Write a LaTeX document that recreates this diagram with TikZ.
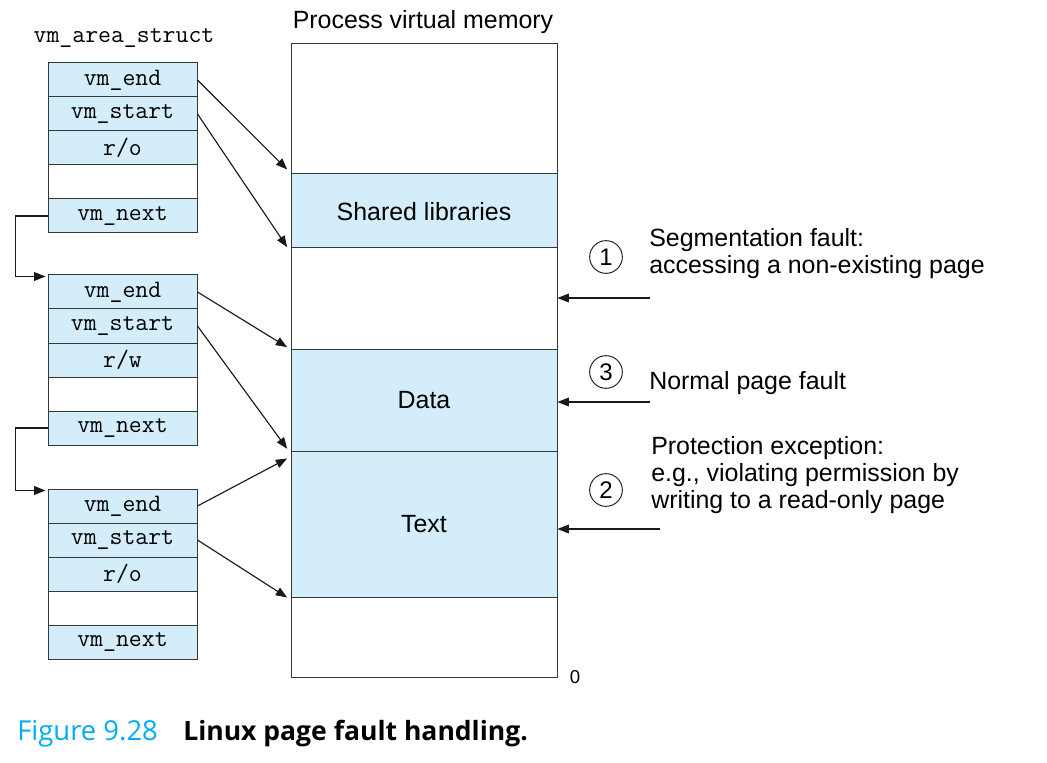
\documentclass[tikz,border=0pt]{standalone}
\usepackage{fontspec}
\setmainfont{Liberation Sans}
\newfontfamily\capfont{Open Sans}
\usepackage{xcolor}
\usepackage{tikz}
\usetikzlibrary{arrows.meta}

\definecolor{memblue}{RGB}{212,237,250}
\definecolor{figcyan}{RGB}{0,174,239}
\definecolor{linegray}{RGB}{55,55,55}

\begin{document}
\begin{tikzpicture}[x=0.75pt,y=-0.75pt,
    field/.style={draw=linegray, fill=memblue, line width=0.75pt, minimum width=111.75pt,
      minimum height=25.5pt, inner sep=0pt, font=\ttfamily\fontsize{18.8pt}{20pt}\selectfont},
    region/.style={draw=linegray, line width=0.75pt, minimum width=199.5pt, inner sep=0pt,
      text depth=0pt, font=\fontsize{18.7pt}{20pt}\selectfont},
    ptr/.style={-{Triangle[length=8.5pt,width=6.5pt]}, line width=0.85pt, black!90},
    num/.style={circle, draw=black!85, line width=0.75pt, minimum size=24.5pt, inner sep=0pt,
      font=\fontsize{18pt}{18pt}\selectfont},
    note/.style={anchor=west, align=left, inner sep=0pt, font=\fontsize{18.7pt}{20.3pt}\selectfont}]
  \fill[white] (0,0) rectangle (1047,763);
  \useasboundingbox (0,0) rectangle (1047,763);

  % memory column
  \foreach \name/\ymid/\h/\fillc/\txt in {memtop/109/97.5/white/{},
      shlib/211/55.5/memblue/Shared libraries, gap/298.5/75.75/white/{},
      data/400/76.5/memblue/Data, text/524/109.5/memblue/Text, membot/637/60/white/{}}{
    \node[region, fill=\fillc, minimum height=\h pt] (\name) at (424,\ymid) {\txt};
  }
  \node[font=\fontsize{18.7pt}{20pt}\selectfont] (memlabel) at (423,22) {Process virtual memory};
  \node[font=\fontsize{14pt}{14pt}\selectfont] (zero) at (575,677) {0};

  % vm_area_struct lists
  \node[font=\ttfamily\fontsize{18.8pt}{20pt}\selectfont] (structlabel) at (124,38) {vm\_area\_struct};
  \foreach \k/\ytop/\perm in {1/63/o, 2/275/w, 3/489/o}{
    \node[field] (s\k-end)   at (122.5,{\ytop+17})  {vm\_end};
    \node[field] (s\k-start) at (122.5,{\ytop+51})  {vm\_start};
    \node[field] (s\k-perm)  at (122.5,{\ytop+85})  {r/\perm};
    \node[field, fill=white] (s\k-blank) at (122.5,{\ytop+119}) {};
    \node[field] (s\k-next)  at (122.5,{\ytop+153}) {vm\_next};
  }

  \draw[ptr] (s1-next.west) -- ++(-24pt,0) |- ([xshift=-1.5pt,yshift=-1.5pt]s2-end.north west);
  \draw[ptr] (s2-next.west) -- ++(-24pt,0) |- ([xshift=-1.5pt,yshift=-1.5pt]s3-end.north west);

  \draw[ptr] (s1-end.east)   -- ([xshift=-2.5pt,yshift=3pt]shlib.north west);
  \draw[ptr] (s1-start.east) -- ([xshift=-2.5pt,yshift=1pt]shlib.south west);
  \draw[ptr] (s2-end.east)   -- ([xshift=-2.5pt,yshift=1pt]data.north west);
  \draw[ptr] (s2-start.east) -- ([xshift=-2.5pt,yshift=2pt]data.south west);
  \draw[ptr] (s3-end.east)   -- ([xshift=-2.5pt,yshift=-6pt]text.north west);
  \draw[ptr] (s3-start.east) -- ([xshift=-2.5pt,yshift=0pt]text.south west);

  % page faults
  \coordinate (f1) at (650,298);
  \coordinate (f3) at (650,402);
  \coordinate (f2) at (660,529);
  \draw[ptr] (f1) -- (f1 -| gap.east);
  \draw[ptr] (f3) -- (f3 -| data.east);
  \draw[ptr] (f2) -- (f2 -| text.east);

  \node[num] (n1) at (606,257) {1};
  \node[num] (n3) at (606,372) {3};
  \node[num] (n2) at (606,490) {2};
  \node[note] (segfault) at (649,254) {Segmentation fault:\\accessing a non-existing page};
  \node[note] (normfault) at (649,383) {Normal page fault};
  \node[note] (protfault) at (651,475) {Protection exception:\\e.g., violating permission by\\writing to a read-only page};

  % caption
  \node[anchor=base west, inner sep=0pt, text=figcyan, font=\capfont\fontsize{20.6pt}{21pt}\selectfont]
    (figno) at (17,740) {Figure 9.28};
  \node[anchor=base west, inner sep=0pt, font=\capfont\bfseries\fontsize{19.9pt}{21pt}\selectfont]
    (figtitle) at (183,740) {Linux page fault handling.};
\end{tikzpicture}
\end{document}
